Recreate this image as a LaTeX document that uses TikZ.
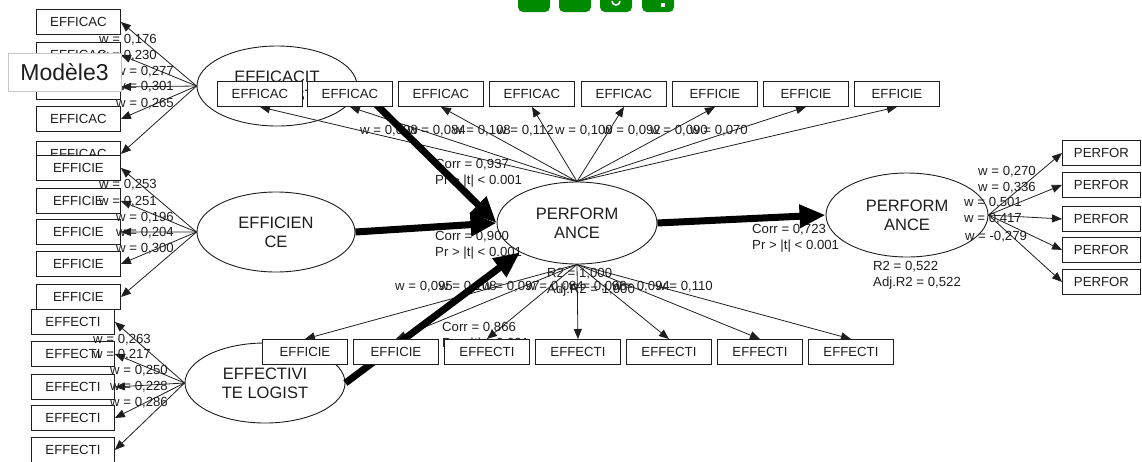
\documentclass[tikz,border=0pt]{standalone}
\usepackage{fontspec}
\setmainfont{Liberation Sans}
\usetikzlibrary{shapes.geometric,arrows.meta}
\pgfdeclarelayer{ell}
\pgfdeclarelayer{thin}
\pgfdeclarelayer{stats}
\pgfdeclarelayer{paths}
\pgfdeclarelayer{wts}
\pgfdeclarelayer{top}
\pgfsetlayers{ell,thin,stats,paths,main,wts,top}
\definecolor{ink}{RGB}{30,30,30}
\definecolor{btn}{RGB}{0,138,0}
\begin{document}
\begin{tikzpicture}[x=1pt,y=-1pt,
  every node/.style={font=\fontsize{13.2}{16}\selectfont, inner sep=0pt, text=ink},
  ind/.style={draw=ink, fill=white, line width=0.9pt, minimum width=85pt, minimum height=25pt, anchor=north west},
  lat/.style={ellipse, draw=ink, fill=white, line width=0.9pt, align=center, font=\fontsize{16.5}{19}\selectfont},
  ld/.style={draw=ink, line width=0.8pt, -{Triangle[length=10pt,width=8pt]}},
  pth/.style={draw=black, line width=7pt, -{Triangle[length=26pt,width=22pt]}},
  stat/.style={align=left, anchor=west},
  wl/.style={anchor=west},
]
\useasboundingbox (0,0) rectangle (1142,461);

% latent variables
\begin{pgfonlayer}{ell}
\node[lat, minimum width=160pt, minimum height=80pt] (eac) at (277,86) {EFFICACIT\\E LOGIST};
\node[lat, minimum width=158pt, minimum height=80pt] (eci) at (276,232) {EFFICIEN\\CE};
\node[lat, minimum width=160pt, minimum height=80pt] (eti) at (265,383) {EFFECTIVI\\TE LOGIST};
\node[lat, minimum width=160pt, minimum height=82pt] (perf) at (577,223) {PERFORM\\ANCE};
\node[lat, minimum width=162pt, minimum height=84pt] (perf2) at (907,215) {PERFORM\\ANCE};
\end{pgfonlayer}

% manifest variables
\foreach \i/\y in {1/9,2/42,3/74,4/106,5/141}
  \node[ind, minimum width=84pt] (a\i) at (36,\y) {EFFICAC};
\foreach \i/\y in {1/155,2/188,3/219,4/251,5/284}
  \node[ind, minimum width=84pt] (c\i) at (36,\y) {EFFICIE};
\foreach \i/\y in {1/309,2/341,3/374,4/405,5/437}
  \node[ind, minimum width=83pt] (e\i) at (31,\y) {EFFECTI};
\foreach \i/\x/\t in {1/217/EFFICAC,2/307/EFFICAC,3/398/EFFICAC,4/489/EFFICAC,5/581/EFFICAC,6/672/EFFICIE,7/763/EFFICIE,8/854/EFFICIE}
  \node[ind] (t\i) at (\x,81) {\t};
\foreach \i/\x/\t in {1/262/EFFICIE,2/353/EFFICIE,3/444/EFFECTI,4/535/EFFECTI,5/626/EFFECTI,6/717/EFFECTI,7/808/EFFECTI}
  \node[ind] (b\i) at (\x,339) {\t};
\foreach \i/\y in {1/140,2/172,3/206,4/237,5/269}
  \node[ind, minimum width=78pt] (p\i) at (1062,\y) {PERFOR};

% outer weights
\begin{pgfonlayer}{thin}
\foreach \i in {1,...,5} {
  \draw[ld] (eac.west) -- (a\i.east);
  \draw[ld] (eci.west) -- (c\i.east);
  \draw[ld] (eti.west) -- (e\i.east);
  \draw[ld] (perf2.east) -- (p\i.west);
}
\foreach \i in {1,...,8} \draw[ld] (perf.north) -- (t\i.south);
\foreach \i in {1,...,7} \draw[ld] (perf.south) -- (b\i.north);
\end{pgfonlayer}

% weights of the repeated indicators, path statistics and R2
\begin{pgfonlayer}{stats}
\foreach \x/\w in {360/098,408/084,453/108,497/112,555/100,603/092,650/090,690/070}
  \node[wl] (tw\x) at (\x,131) {w = 0,\w};
\foreach \x/\w in {395/095,439/108,482/097,526/084,569/098,612/094,656/110}
  \node[wl] (bw\x) at (\x,287) {w = 0,\w};
\node[stat] (s1) at (435,173.5) {Corr = 0,937\\Pr > |t| < 0.001};
\node[stat] (s2) at (435,245.5) {Corr = 0,900\\Pr > |t| < 0.001};
\node[stat] (s3) at (442,336.5) {Corr = 0,866\\Pr > |t| < 0.001};
\node[stat] (s4) at (752,238.5) {Corr = 0,723\\Pr > |t| < 0.001};
\node[stat] (r1) at (547,282) {R2 = 1,000\\Adj.R2 = 1,000};
\node[stat] (r2) at (873,275) {R2 = 0,522\\Adj.R2 = 0,522};
\end{pgfonlayer}

% structural paths
\begin{pgfonlayer}{paths}
\draw[pth] (eac.east) -- (perf.west);
\draw[pth] (eci.east) -- (perf.west);
\draw[pth] (eti.east) -- (perf.south west);
\draw[pth] (perf.east) -- (perf2.west);
\end{pgfonlayer}

% weights of the first-order blocks
\begin{pgfonlayer}{wts}
\foreach \x/\y/\w in {128/40/{0,176}, 128/56/{0,230}, 145/72/{0,277}, 145/87/{0,301}, 145/104/{0,265},
                      128/185/{0,253}, 128/202/{0,251}, 145/218/{0,196}, 145/233/{0,204}, 145/249/{0,300},
                      122/340/{0,263}, 122/355/{0,217}, 139/371/{0,250}, 139/387/{0,228}, 139/403/{0,286},
                      1007/172/{0,270}, 1007/188/{0,336}, 993/203/{0,501}, 993/219/{0,417}, 996/237/{-0,279}}
  \node (w\x-\y) at (\x,\y) {w = \w};
\end{pgfonlayer}

% title tag and toolbar
\begin{pgfonlayer}{top}
\node[draw=black!22, fill=white, line width=0.8pt, minimum width=113pt, minimum height=38pt,
      font=\fontsize{23}{26}\selectfont] (title) at (64.5,72) {Modèle3};
\begin{scope}
\clip (0,0) rectangle (1142,461);
\foreach \x in {518,559,600,642}
  \fill[btn, rounded corners=5pt] (\x,-8) rectangle ++(32,20);
\draw[white, line width=1.6pt] (620,1) arc[start angle=0, end angle=180, radius=4];
\fill[white] (661,3) rectangle (665,7);
\end{scope}
\end{pgfonlayer}
\end{tikzpicture}
\end{document}
